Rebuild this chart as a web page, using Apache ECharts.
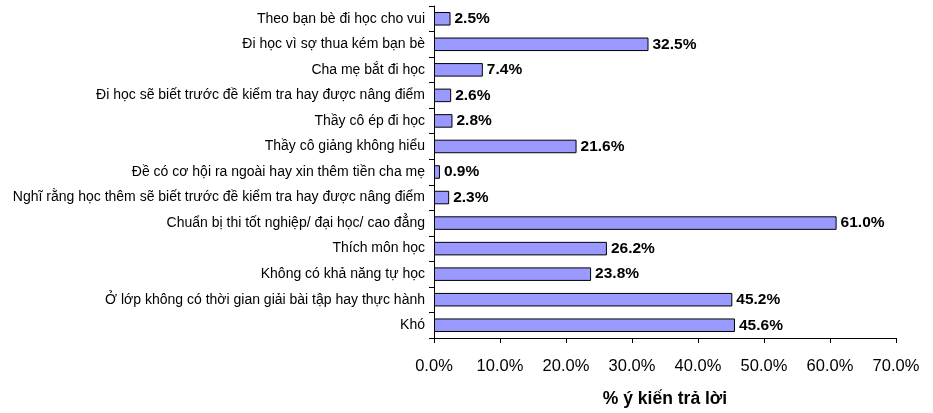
<!DOCTYPE html>
<html>
<head>
<meta charset="utf-8">
<script src="https://cdn.jsdelivr.net/npm/echarts@6/dist/echarts.min.js"></script>
<style>
html,body{margin:0;padding:0;background:#fff;}
#chart{width:933px;height:413px;}
</style>
</head>
<body>
<div id="chart"></div>
<script>
const categories = [
  "Theo bạn bè đi học cho vui",
  "Đi học vì sợ thua kém bạn bè",
  "Cha mẹ bắt đi học",
  "Đi học sẽ biết trước đề kiểm tra hay được nâng điểm",
  "Thầy cô ép đi học",
  "Thầy cô giảng không hiểu",
  "Đề có cơ hội ra ngoài hay xin thêm tiền cha mẹ",
  "Nghĩ rằng học thêm sẽ biết trước đề kiểm tra hay được nâng điểm",
  "Chuẩn bị thi tốt nghiệp/ đại học/ cao đẳng",
  "Thích môn học",
  "Không có khả năng tự học",
  "Ở lớp không có thời gian giải bài tập hay thực hành",
  "Khó"
];
const values = [2.5, 32.5, 7.4, 2.6, 2.8, 21.6, 0.9, 2.3, 61.0, 26.2, 23.8, 45.2, 45.6];
const axisTitle = "% ý kiến trả lời";

const chart = echarts.init(document.getElementById('chart'), null, {renderer: 'canvas'});
const font = '"Liberation Sans", Arial, sans-serif';
chart.setOption({
  animation: false,
  textStyle: {fontFamily: font},
  grid: {left: 434, right: 37, top: 6, bottom: 72, containLabel: false},
  xAxis: {
    type: 'value', min: 0, max: 70, interval: 10,
    axisLine: {show: true, lineStyle: {color: '#000', width: 1}},
    axisTick: {show: true, length: 5, lineStyle: {color: '#000'}},
    splitLine: {show: false},
    axisLabel: {formatter: v => v.toFixed(1) + '%', color: '#000', fontSize: 16.5, margin: 20, fontFamily: font},
    name: axisTitle, nameLocation: 'middle', nameGap: 52,
    nameTextStyle: {color: '#000', fontWeight: 'bold', fontSize: 17.5, fontFamily: font}
  },
  yAxis: {
    type: 'category', data: categories, inverse: true,
    axisLine: {show: true, lineStyle: {color: '#000', width: 1}},
    axisTick: {show: true, length: 5, alignWithLabel: false, lineStyle: {color: '#000'}},
    axisLabel: {color: '#000', fontSize: 14, margin: 9, fontFamily: font, interval: 0},
    splitLine: {show: false}
  },
  series: [{
    type: 'bar', data: values, barCategoryGap: '47%',
    itemStyle: {color: '#9999FF', borderColor: '#000', borderWidth: 1},
    label: {show: true, position: 'right', distance: 4, formatter: p => p.value.toFixed(1) + '%',
      color: '#000', fontWeight: 'bold', fontSize: 15.5, fontFamily: font}
  }]
});
</script>
</body>
</html>
